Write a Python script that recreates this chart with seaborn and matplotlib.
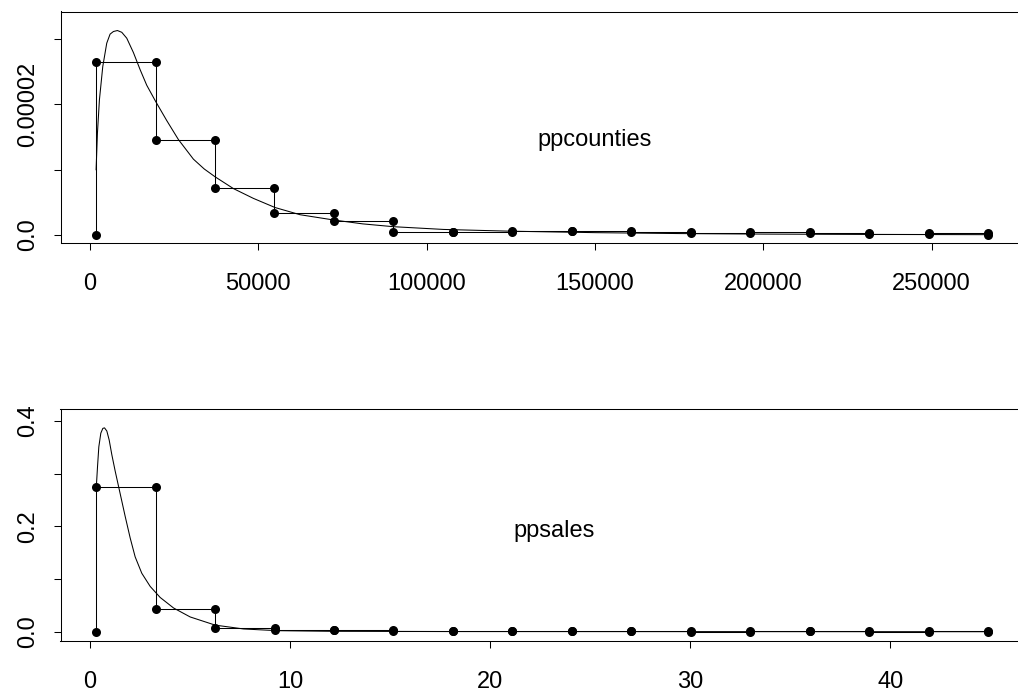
import numpy as np
import pandas as pd
import matplotlib
matplotlib.use("Agg")
import matplotlib.pyplot as plt
import seaborn as sns

# ---------------- data: ppcounties (top panel) ----------------
counties_edges = [1782, 19446, 37110, 54774, 72438, 90102, 107766, 125430,
                  143094, 160758, 178422, 196086, 213750, 231414, 249078, 266742]
counties_density = [2.646e-5, 1.446e-5, 0.723e-5, 0.338e-5, 0.215e-5, 0.046e-5,
                    0.046e-5, 0.066e-5, 0.066e-5, 0.046e-5, 0.038e-5, 0.046e-5,
                    0.030e-5, 0.020e-5, 0.035e-5]
counties_curve_x = [1782, 2180, 2770, 3765, 4950, 5940, 6930, 8120, 9410, 10890,
                    12870, 14850, 16830, 19500, 22770, 26230, 30690, 33900, 37130,
                    42570, 48510, 54950, 62380, 72280, 81000, 90100, 105000,
                    125000, 150000, 175000, 200000, 230000, 266742]
counties_curve_y = [0.995e-5, 1.557e-5, 2.066e-5, 2.576e-5, 2.934e-5, 3.072e-5,
                    3.112e-5, 3.127e-5, 3.10e-5, 3.01e-5, 2.79e-5, 2.53e-5,
                    2.29e-5, 2.04e-5, 1.75e-5, 1.46e-5, 1.16e-5, 1.01e-5, 0.89e-5,
                    0.71e-5, 0.56e-5, 0.42e-5, 0.31e-5, 0.23e-5, 0.17e-5, 0.127e-5,
                    0.085e-5, 0.058e-5, 0.036e-5, 0.022e-5, 0.014e-5, 0.009e-5,
                    0.005e-5]
counties_label = "ppcounties"
counties_yticks = [0, 1e-5, 2e-5, 3e-5]
counties_yticklabels = ["0.0", "", "0.00002", ""]
counties_xticks = [0, 50000, 100000, 150000, 200000, 250000]
counties_xticklabels = ["0", "50000", "100000", "150000", "200000", "250000"]

# ---------------- data: ppsales (bottom panel) ----------------
sales_edges = [0.3, 3.272, 6.245, 9.217, 12.189, 15.162, 18.134, 21.106,
               24.078, 27.051, 30.023, 32.995, 35.968, 38.940, 41.912, 44.885]
sales_density = [0.274, 0.0425, 0.0065, 0.0038, 0.0026, 0.0018, 0.0012, 0.0009,
                 0.0010, 0.0004, 0.0003, 0.0004, 0.0004, 0.0003, 0.0004]
sales_curve_x = [0.3, 0.367, 0.433, 0.533, 0.633, 0.717, 0.833, 0.95, 1.083,
                 1.25, 1.5, 1.75, 2.0, 2.25, 2.58, 3.0, 3.5, 4.17, 5.0, 6.25,
                 7.67, 9.33, 12.0, 18.0, 44.885]
sales_curve_y = [0.27, 0.313, 0.351, 0.377, 0.386, 0.387, 0.381, 0.364, 0.336,
                 0.305, 0.262, 0.219, 0.178, 0.142, 0.111, 0.086, 0.065, 0.045,
                 0.028, 0.0125, 0.0052, 0.002, 0.0008, 0.0003, 0.0]
sales_label = "ppsales"
sales_yticks = [0, 0.1, 0.2, 0.3, 0.4]
sales_yticklabels = ["0.0", "", "0.2", "", "0.4"]
sales_xticks = [0, 10, 20, 30, 40]
sales_xticklabels = ["0", "10", "20", "30", "40"]


def step_frame(edges, dens):
    xs, ys = [edges[0]], [0.0]
    for i, h in enumerate(dens):
        xs += [edges[i], edges[i + 1]]
        ys += [h, h]
    xs.append(edges[-1])
    ys.append(0.0)
    return pd.DataFrame({"x": xs, "y": ys})


sns.set_style("ticks")
plt.rcParams["font.family"] = ["Liberation Sans", "DejaVu Sans"]

W, H = 1018, 695
fig = plt.figure(figsize=(W / 100, H / 100), dpi=100)
fig.patch.set_facecolor("white")

LW = 0.75
FS = 17


def panel(rect, edges, dens, cx, cy, xlim, ylim, xt, xtl, yt, ytl, label, lpos):
    ax = fig.add_axes(rect)
    df = step_frame(edges, dens)
    sns.lineplot(data=df, x="x", y="y", sort=False, estimator=None, ax=ax,
                 color="black", linewidth=LW, marker="o", markersize=6.5,
                 markeredgecolor="black", markeredgewidth=0)
    cdf = pd.DataFrame({"x": cx, "y": cy})
    sns.lineplot(data=cdf, x="x", y="y", sort=False, estimator=None, ax=ax,
                 color="black", linewidth=LW)
    ax.set_xlim(*xlim)
    ax.set_ylim(*ylim)
    ax.set_xticks(xt)
    ax.set_xticklabels(xtl)
    ax.set_yticks(yt)
    ax.set_yticklabels(ytl, rotation=90, va="center")
    ax.set_xlabel("")
    ax.set_ylabel("")
    ax.tick_params(axis="both", direction="out", length=4.7, width=LW,
                   labelsize=FS, color="black", labelcolor="black")
    ax.tick_params(axis="x", pad=17)
    ax.tick_params(axis="y", pad=11)
    for s in ax.spines.values():
        s.set_linewidth(LW)
        s.set_color("black")
        s.set_visible(True)
    ax.set_facecolor("white")
    ax.text(lpos[0], lpos[1], label, ha="center", va="center", fontsize=FS,
            color="black")
    return ax


panel([60.5 / W, 1 - 243.3 / H, 963.2 / W, 231.8 / H],
      counties_edges, counties_density, counties_curve_x, counties_curve_y,
      (-8790, 277340), (-0.127e-5, 3.418e-5),
      counties_xticks, counties_xticklabels, counties_yticks, counties_yticklabels,
      counties_label, (150000, 1.45e-5))

panel([60.5 / W, 1 - 640.5 / H, 963.2 / W, 231.5 / H],
      sales_edges, sales_density, sales_curve_x, sales_curve_y,
      (-1.483, 46.668), (-0.0167, 0.4228),
      sales_xticks, sales_xticklabels, sales_yticks, sales_yticklabels,
      sales_label, (23.2, 0.192))

fig.savefig("out.png", dpi=100, facecolor="white")
